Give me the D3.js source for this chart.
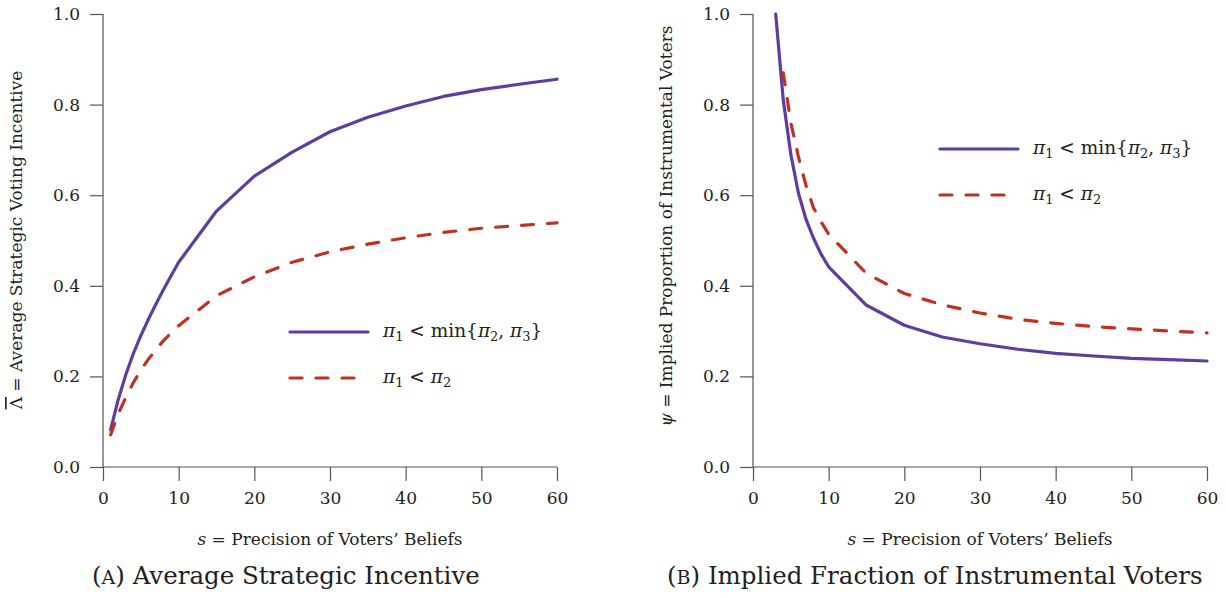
<!DOCTYPE html>
<html><head><meta charset="utf-8">
<script src="https://cdn.jsdelivr.net/npm/d3@7"></script>
<style>
html,body{margin:0;padding:0;background:#fff;}
svg{display:block;}
text{font-family:"DejaVu Serif","Liberation Serif",serif;fill:#222;}
</style></head>
<body>
<svg id="chart" width="1226" height="598"></svg>
<script>
// ---- data ----
const xTicks = [0, 10, 20, 30, 40, 50, 60];
const yTicks = [0.0, 0.2, 0.4, 0.6, 0.8, 1.0];

// Panel A: average strategic incentive
const sA = [1,2,3,4,5,6,7,8,9,10,15,20,25,30,35,40,45,50,55,60];
const incentiveMin = [0.082,0.148,0.203,0.250,0.290,0.326,0.360,0.392,0.422,0.452,0.565,0.642,0.695,0.740,0.772,0.797,0.818,0.833,0.845,0.856];
const incentivePair = [0.071,0.117,0.153,0.186,0.214,0.238,0.259,0.279,0.296,0.312,0.378,0.420,0.452,0.475,0.492,0.506,0.518,0.527,0.533,0.539];

// Panel B: implied proportion of instrumental voters
const sBmin = [3,4,5,6,7,8,9,10,15,20,25,30,35,40,45,50,55,60];
const psiMin = [1.0,0.81,0.69,0.605,0.547,0.505,0.470,0.442,0.357,0.313,0.287,0.272,0.260,0.251,0.245,0.240,0.237,0.234];
const sBpair = [4,5,6,7,8,9,10,15,20,25,30,35,40,45,50,55,60];
const psiPair = [0.870,0.760,0.685,0.622,0.572,0.541,0.514,0.427,0.383,0.358,0.340,0.326,0.317,0.310,0.305,0.300,0.296];

const seriesNames = ["min", "pair"];
const colors = {min: "#5e3ca0", pair: "#c0321f"};

const svg = d3.select("#chart");

function drawPanel(ox, series, yTitle, yTitleSym, yTitleCenter, legendPos, caption) {
  const x = d3.scaleLinear().domain([0, 60]).range([ox + 103, ox + 557]);
  const y = d3.scaleLinear().domain([0, 1]).range([467, 14]);
  const g = svg.append("g");

  // axes
  const xa = g.append("g").attr("transform", "translate(0,467)")
    .call(d3.axisBottom(x).tickValues(xTicks).tickSize(14).tickPadding(7).tickFormat(d3.format("d")));
  const ya = g.append("g").attr("transform", `translate(${ox + 103},0)`)
    .call(d3.axisLeft(y).tickValues(yTicks).tickSize(13).tickPadding(10).tickFormat(d3.format(".1f")));
  [xa, ya].forEach(a => {
    a.select(".domain").attr("stroke", "#555").attr("stroke-width", 1.2);
    a.selectAll(".tick line").attr("stroke", "#555").attr("stroke-width", 1.2);
    a.selectAll(".tick text").attr("font-size", 17).attr("fill", "#222")
      .style("font-family", '"DejaVu Serif", serif');
  });
  xa.select(".domain").attr("d", `M${x(0)},0H${x(60)}`);
  ya.select(".domain").attr("d", `M0,${y(0)}V${y(1)}`);
  xa.selectAll(".tick text").attr("dy", "0.95em");

  // lines
  const line = d3.line().x(d => x(d[0])).y(d => y(d[1]));
  series.forEach(s => {
    g.append("path").datum(d3.zip(s.xs, s.ys))
      .attr("d", line).attr("fill", "none")
      .attr("stroke", colors[s.key]).attr("stroke-width", 3.2)
      .attr("stroke-linecap", "round").attr("stroke-linejoin", "round")
      .attr("stroke-dasharray", s.key === "pair" ? "12,14" : null);
  });

  // legend
  const lg = g.append("g").attr("transform", `translate(${ox + legendPos[0]},${legendPos[1]})`);
  seriesNames.forEach((k, i) => {
    const yy = i * 46;
    lg.append("line").attr("x1", 0).attr("x2", 78).attr("y1", yy).attr("y2", yy)
      .attr("stroke", colors[k]).attr("stroke-width", 3.2).attr("stroke-linecap", "round")
      .attr("stroke-dasharray", k === "pair" ? "12,14" : null);
    const t = lg.append("text").attr("x", 93).attr("y", yy + 5).attr("font-size", 18.5);
    const sub = (n) => { t.append("tspan").attr("font-size", 13).attr("dy", 4).text(n); };
    const pi = () => { t.append("tspan").attr("font-style", "italic").text("π"); };
    if (k === "min") {
      pi(); sub("1");
      t.append("tspan").attr("dy", -4).text(" < min{");
      pi(); sub("2");
      t.append("tspan").attr("dy", -4).text(", ");
      pi(); sub("3");
      t.append("tspan").attr("dy", -4).text("}");
    } else {
      pi(); sub("1");
      t.append("tspan").attr("dy", -4).text(" < ");
      pi(); sub("2");
    }
  });

  // x title
  const xt = g.append("text").attr("x", ox + 330).attr("y", 545)
    .attr("text-anchor", "middle").attr("font-size", 17);
  xt.append("tspan").attr("font-style", "italic").text("s");
  xt.append("tspan").text(" = Precision of Voters’ Beliefs");

  // y title
  const yt = g.append("text")
    .attr("transform", `translate(${ox + 22},${yTitleCenter}) rotate(-90)`)
    .attr("text-anchor", "middle").attr("font-size", 17);
  yt.append("tspan").attr("font-style", yTitleSym.italic ? "italic" : "normal")
    .style("text-decoration", yTitleSym.bar ? "overline" : null).text(yTitleSym.s);
  yt.append("tspan").text(yTitle);

  // caption
  const ct = g.append("text").attr("x", caption.x).attr("y", 584).attr("font-size", 24.5);
  ct.append("tspan").text("(");
  ct.append("tspan").attr("font-size", 19).text(caption.letter);
  ct.append("tspan").text(") " + caption.text);
}

drawPanel(0,
  [{key: "min", xs: sA, ys: incentiveMin}, {key: "pair", xs: sA, ys: incentivePair}],
  " = Average Strategic Voting Incentive", {s: "Λ", italic: false, bar: true}, 240,
  [290, 332], {x: 92, letter: "A", text: "Average Strategic Incentive"});

drawPanel(650,
  [{key: "min", xs: sBmin, ys: psiMin}, {key: "pair", xs: sBpair, ys: psiPair}],
  " = Implied Proportion of Instrumental Voters", {s: "ψ", italic: true, bar: false}, 226,
  [290, 149], {x: 667, letter: "B", text: "Implied Fraction of Instrumental Voters"});
</script>
</body></html>
